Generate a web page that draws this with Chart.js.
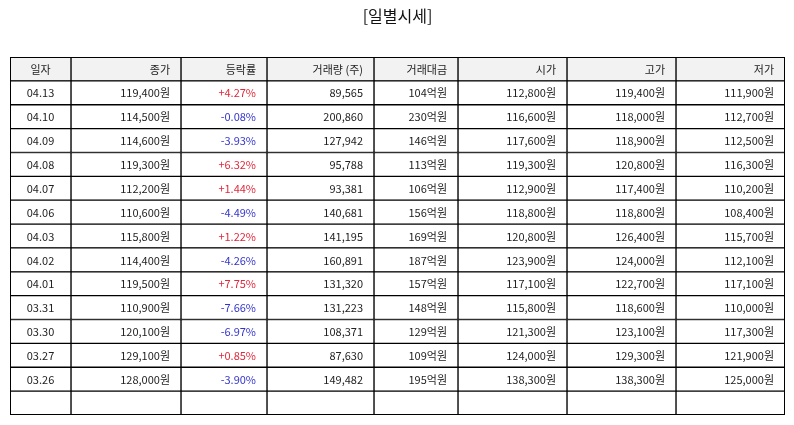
<!DOCTYPE html>
<html><head><meta charset="utf-8">
<script src="https://cdn.jsdelivr.net/npm/chart.js@4"></script>
<style>html,body{margin:0;padding:0;background:#fff}#wrap{width:794px;height:425px}</style>
</head><body><div id="wrap"><canvas id="c"></canvas></div>
<script>
const headers = ['일자','종가','등락률','거래량 (주)','거래대금','시가','고가','저가'];
const dates = ['04.13','04.10','04.09','04.08','04.07','04.06','04.03','04.02','04.01','03.31','03.30','03.27','03.26'];
const closePrice = [119400,114500,114600,119300,112200,110600,115800,114400,119500,110900,120100,129100,128000];
const changePct = [4.27,-0.08,-3.93,6.32,1.44,-4.49,1.22,-4.26,7.75,-7.66,-6.97,0.85,-3.90];
const volume = [89565,200860,127942,95788,93381,140681,141195,160891,131320,131223,108371,87630,149482];
const amountEok = [104,230,146,113,106,156,169,187,157,148,129,109,195];
const openPrice = [112800,116600,117600,119300,112900,118800,120800,123900,117100,115800,121300,124000,138300];
const highPrice = [119400,118000,118900,120800,117400,118800,126400,124000,122700,118600,123100,129300,138300];
const lowPrice = [111900,112700,112500,116300,110200,108400,115700,112100,117100,110000,117300,121900,125000];

// layout (column widths in px units of the x scale)
const colWidths = [61,110,86,107,84,109,109,109];

const fmt = n => n.toLocaleString('en-US');
const won = n => fmt(n) + '원';
const pct = n => (n > 0 ? '+' : '') + n.toFixed(2) + '%';

const rowLabels = ['header'].concat(dates).concat(['']);
const nRows = rowLabels.length;

const cellText = (r, c) => {
  if (r === 0) return headers[c];
  const i = r - 1;
  if (i >= dates.length) return '';
  switch (c) {
    case 0: return dates[i];
    case 1: return won(closePrice[i]);
    case 2: return pct(changePct[i]);
    case 3: return fmt(volume[i]);
    case 4: return amountEok[i] + '억원';
    case 5: return won(openPrice[i]);
    case 6: return won(highPrice[i]);
    case 7: return won(lowPrice[i]);
  }
};
const cellColor = (r, c) => {
  if (r > 0 && c === 2 && r - 1 < dates.length) return changePct[r-1] > 0 ? '#e0283a' : '#3434cc';
  return '#222';
};

const datasets = colWidths.map((w, c) => ({
  label: headers[c],
  data: rowLabels.map(() => w),
  backgroundColor: rowLabels.map((_, r) => r === 0 ? '#f2f2f2' : '#ffffff'),
  borderColor: '#000',
  borderWidth: 1,
  borderSkipped: false,
  barPercentage: 1,
  categoryPercentage: 1,
  stack: 's'
}));

const textPlugin = {
  id: 'cellText',
  afterDatasetsDraw(chart) {
    const ctx = chart.ctx, xs = chart.scales.x, ys = chart.scales.y;
    ctx.save();
    ctx.font = '11px "Noto Sans CJK KR", sans-serif';
    ctx.textBaseline = 'middle';
    for (let r = 0; r < nRows; r++) {
      const y = ys.getPixelForValue(r) + 0.5;
      let acc = 0;
      for (let c = 0; c < colWidths.length; c++) {
        const x0 = xs.getPixelForValue(acc), x1 = xs.getPixelForValue(acc + colWidths[c]);
        acc += colWidths[c];
        const t = cellText(r, c);
        if (!t) continue;
        ctx.fillStyle = cellColor(r, c);
        if (c === 0) { ctx.textAlign = 'center'; ctx.fillText(t, (x0 + x1) / 2, y); }
        else { ctx.textAlign = 'right'; ctx.fillText(t, x1 - 11, y); }
      }
    }
    const a = chart.chartArea;
    ctx.strokeStyle = '#000'; ctx.lineWidth = 1;
    ctx.strokeRect(a.left + 0.5, a.top + 0.5, a.right - a.left - 1, a.bottom - a.top - 1);
    ctx.restore();
  }
};

new Chart(document.getElementById('c'), {
  type: 'bar',
  data: { labels: rowLabels, datasets },
  options: {
    indexAxis: 'y',
    responsive: true,
    maintainAspectRatio: false,
    animation: false,
    layout: { padding: { left: 10, right: 9, top: 0, bottom: 10 } },
    scales: {
      x: { display: false, stacked: true, min: 0, max: colWidths.reduce((a, b) => a + b, 0) },
      y: { display: false, stacked: true }
    },
    plugins: {
      legend: { display: false },
      tooltip: { enabled: false },
      title: {
        display: true,
        text: '[일별시세]',
        color: '#111',
        font: { family: '"Noto Sans CJK KR", sans-serif', size: 16, weight: 'normal' },
        padding: { top: 6, bottom: 31.8 }
      }
    }
  },
  plugins: [textPlugin]
});
</script></body></html>
